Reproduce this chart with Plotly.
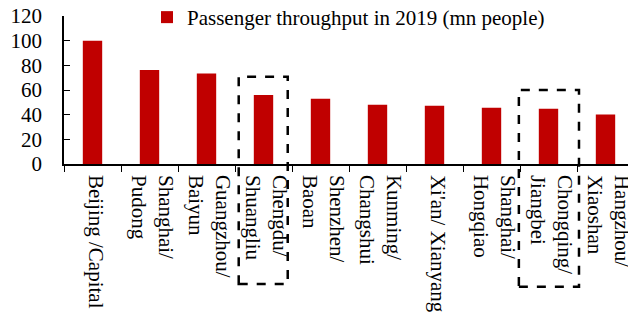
import plotly.graph_objects as go

categories = ["Beijing /Capital", "Shanghai/<br>Pudong", "Guangzhou/<br>Baiyun",
              "Chengdu/<br>Shuangliu", "Shenzhen/<br>Baoan", "Kunming/<br>Changshui",
              "Xi'an/ Xianyang", "Shanghai/<br>Hongqiao", "Chongqing/<br>Jiangbei",
              "Hangzhou/<br>Xiaoshan"]
values = [100.0, 76.2, 73.4, 55.9, 52.9, 48.1, 47.2, 45.6, 44.8, 40.1]
series_name = "Passenger throughput in 2019 (mn people)"
y_ticks = [0, 20, 40, 60, 80, 100, 120]

fig = go.Figure()
fig.add_trace(go.Bar(x=categories, y=values, name=series_name,
                     marker=dict(color="#C00000", line=dict(width=0)),
                     showlegend=True))

fam = "Liberation Serif, Times New Roman, serif"
font = dict(family=fam, size=21, color="black")
xfont = dict(family=fam, size=21, color="black")

box = dict(type="rect", xref="paper", yref="paper",
           line=dict(color="black", width=2.5, dash="dash"), fillcolor="rgba(0,0,0,0)",
           layer="above")
fig.add_shape(**box, x0=0.3065, x1=0.3925, y0=-0.811, y1=0.590)
fig.add_shape(**box, x0=0.798, x1=0.9035, y0=-0.829, y1=0.500)

# page body has an 8px offset; margins compensate so the plot lands where the reference has it
fig.update_layout(
    width=636, height=318,
    margin=dict(l=56, r=10, t=7.6, b=162, autoexpand=False),
    paper_bgcolor="white", plot_bgcolor="white",
    font=font,
    bargap=0.66,
    legend=dict(x=0.1456, xanchor="left", y=0.99, yanchor="middle",
                bgcolor="rgba(0,0,0,0)", font=font, itemwidth=30),
    xaxis=dict(type="category", showline=True, linecolor="black", linewidth=1.5,
               ticks="outside", ticklen=6, tickcolor="black", tickson="boundaries",
               tickangle=90, tickfont=xfont, showgrid=False, zeroline=False,
               automargin=False, ticklabelstandoff=5, ticklabelshift=3,
               ticklabeloverflow="allow"),
    yaxis=dict(range=[0, 120], tickvals=y_ticks, showline=True, linecolor="black",
               linewidth=1.5, ticks="inside", ticklen=6, tickcolor="black",
               tickfont=font, showgrid=False, zeroline=False, ticklabelstandoff=16,
               automargin=False, ticklabeloverflow="allow"),
)

fig.write_html("out.html")
